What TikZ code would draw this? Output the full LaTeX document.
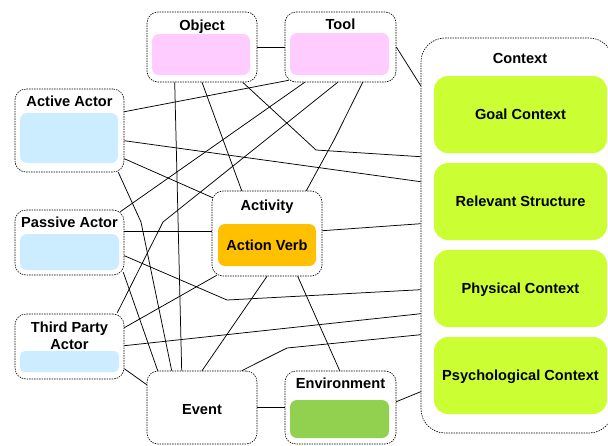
\documentclass[tikz,border=0pt]{standalone}
\usepackage{fontspec}
\setmainfont{Liberation Sans}
\usetikzlibrary{calc}
\definecolor{pinkfill}{HTML}{FFCCFF}
\definecolor{bluefill}{HTML}{CCECFF}
\definecolor{orangefill}{HTML}{FFC000}
\definecolor{limefill}{HTML}{CCFF33}
\definecolor{greenfill}{HTML}{92D050}
\begin{document}
\begin{tikzpicture}[x=1pt,y=-1pt,
  outerbox/.style={draw, dash pattern=on 1.5pt off 1pt, line width=0.6pt, rounded corners=11pt, fill=white, inner sep=0pt},
  innerbox/.style={rounded corners=7pt, inner sep=0pt, draw=none, text height=10.4pt, text depth=0pt, font=\bfseries\fontsize{14.6}{17}\selectfont},
  titletext/.style={font=\bfseries\fontsize{14.6}{17}\selectfont, inner sep=0pt, align=center, anchor=base},
  titletwo/.style={font=\bfseries\fontsize{14.6}{17}\selectfont, inner sep=0pt, align=center},
  link/.style={line width=0.75pt}]
\useasboundingbox (0,0) rectangle (608,445);
\clip (0,0) rectangle (608,445);
% outer boxes
\node[outerbox, minimum width=110pt, minimum height=70pt] (obj) at (202,47) {};
\node[outerbox, minimum width=111pt, minimum height=70pt] (tool) at (340.5,47) {};
\node[outerbox, minimum width=109pt, minimum height=83pt] (act) at (69.5,130.5) {};
\node[outerbox, minimum width=109pt, minimum height=65pt] (pas) at (69.5,242.5) {};
\node[outerbox, minimum width=109pt, minimum height=65pt] (thp) at (69.5,346.5) {};
\node[outerbox, minimum width=110pt, minimum height=85pt] (actv) at (267,233.5) {};
\node[outerbox, minimum width=110pt, minimum height=73pt] (evt) at (202,407.5) {};
\node[outerbox, minimum width=111pt, minimum height=73pt] (env) at (340.5,407.5) {};
\node[outerbox, rounded corners=24pt, minimum width=192pt, minimum height=395pt] (ctx) at (517,235.5) {};
% inner boxes
\node[innerbox, fill=pinkfill, minimum width=98pt, minimum height=41pt] (objin) at (201,54.5) {};
\node[innerbox, fill=pinkfill, minimum width=99pt, minimum height=42pt] (toolin) at (339.5,54) {};
\node[innerbox, fill=bluefill, minimum width=98pt, minimum height=50pt] (actin) at (69,138) {};
\node[innerbox, fill=bluefill, minimum width=99pt, minimum height=36pt] (pasin) at (69.5,252) {};
\node[innerbox, fill=bluefill, rounded corners=5pt, minimum width=99pt, minimum height=21pt] (thpin) at (69.5,361.5) {};
\node[innerbox, fill=orangefill, minimum width=98pt, minimum height=42pt] (actvin) at (267,245) {Action Verb};
\node[innerbox, fill=greenfill, minimum width=99pt, minimum height=38pt] (envin) at (339.5,419) {};
\node[innerbox, fill=limefill, rounded corners=14pt, minimum width=173pt, minimum height=77pt] (goal) at (520.5,114.5) {Goal Context};
\node[innerbox, fill=limefill, rounded corners=14pt, minimum width=173pt, minimum height=77pt] (rel) at (520.5,201.5) {Relevant Structure};
\node[innerbox, fill=limefill, rounded corners=14pt, minimum width=173pt, minimum height=77pt] (phys) at (520.5,288.5) {Physical Context};
\node[innerbox, fill=limefill, rounded corners=14pt, minimum width=173pt, minimum height=77pt] (psy) at (520.5,375.5) {Psychological Context};
% titles
\node[titletext] (objt) at (202,30) {Object};
\node[titletext] (toolt) at (340.5,29) {Tool};
\node[titletext] (actt) at (69.5,106) {Active Actor};
\node[titletext] (past) at (69.5,227) {Passive Actor};
\node[titletwo] (thpt) at (69.5,335.5) {Third Party\\Actor};
\node[titletext] (actvt) at (267,210) {Activity};
\node[titletext] (envt) at (340.5,388) {Environment};
\node[titletext] (ctxt) at (520,63) {Context};
\node[titletext] (evtt) at (202,414) {Event};
% connectors
\draw[link] (obj.east) -- (tool.west);
\draw[link] ($(obj.south west)+(28,0)$) -- ($(evt.north west)+(35,0)$);
\draw[link] (obj.south) -- ($(actv.north west)+(30,0)$);
\draw[link] ($(obj.south west)+(96,0)$) -- (316,150) -- ($(ctx.north west)+(0,119)$);
\draw[link] ($(tool.south west)+(4,-2)$) -- ($(act.north east)+(0,23)$);
\draw[link] ($(tool.south west)+(20,0)$) -- ($(pas.north east)+(-4,2)$);
\draw[link] ($(tool.south west)+(53,0)$) -- (163,222) -- ($(thp.north east)+(-7,-1)$);
\draw[link] ($(tool.south west)+(78,0)$) -- (334,140) -- ($(actv.north east)+(-16,0)$);
\draw[link] (tool.east) -- ($(ctx.north west)+(0,48)$);
\draw[link] ($(act.north east)+(0,52)$) -- ($(ctx.north west)+(0,144)$);
\draw[link] ($(act.north east)+(0,70)$) -- ($(actv.north west)+(1,7)$);
\draw[link] ($(act.south east)+(-6,0)$) -- (141,222) -- ($(evt.north west)+(25,0)$);
\draw[link] ($(pas.north east)+(0,22)$) -- ($(actv.north west)+(0,41)$);
\draw[link] ($(pas.north east)+(0,46)$) -- (227,300) -- ($(ctx.north west)+(0,252)$);
\draw[link] ($(pas.south east)+(-1,-3)$) -- ($(evt.north west)+(11,0)$);
\draw[link] ($(thp.north east)+(0,14)$) -- ($(actv.south west)+(5,-1)$);
\draw[link] ($(thp.north east)+(0,32)$) -- ($(ctx.north west)+(0,276)$);
\draw[link] ($(thp.north east)+(0,55)$) -- ($(evt.north west)+(0,14)$);
\draw[link] (evt.north) -- (actv.south);
\draw[link] ($(evt.north west)+(95,0)$) -- (287,348) -- ($(ctx.north west)+(0,297)$);
\draw[link] (evt.east) -- (env.west);
\draw[link] ($(actv.south west)+(86,0)$) -- ($(env.north west)+(55,0)$);
\draw[link] ($(actv.north east)+(0,40)$) -- ($(ctx.north west)+(0,186)$);
\draw[link] ($(env.north east)+(0,31)$) -- ($(ctx.north west)+(0,354)$);
\end{tikzpicture}
\end{document}
